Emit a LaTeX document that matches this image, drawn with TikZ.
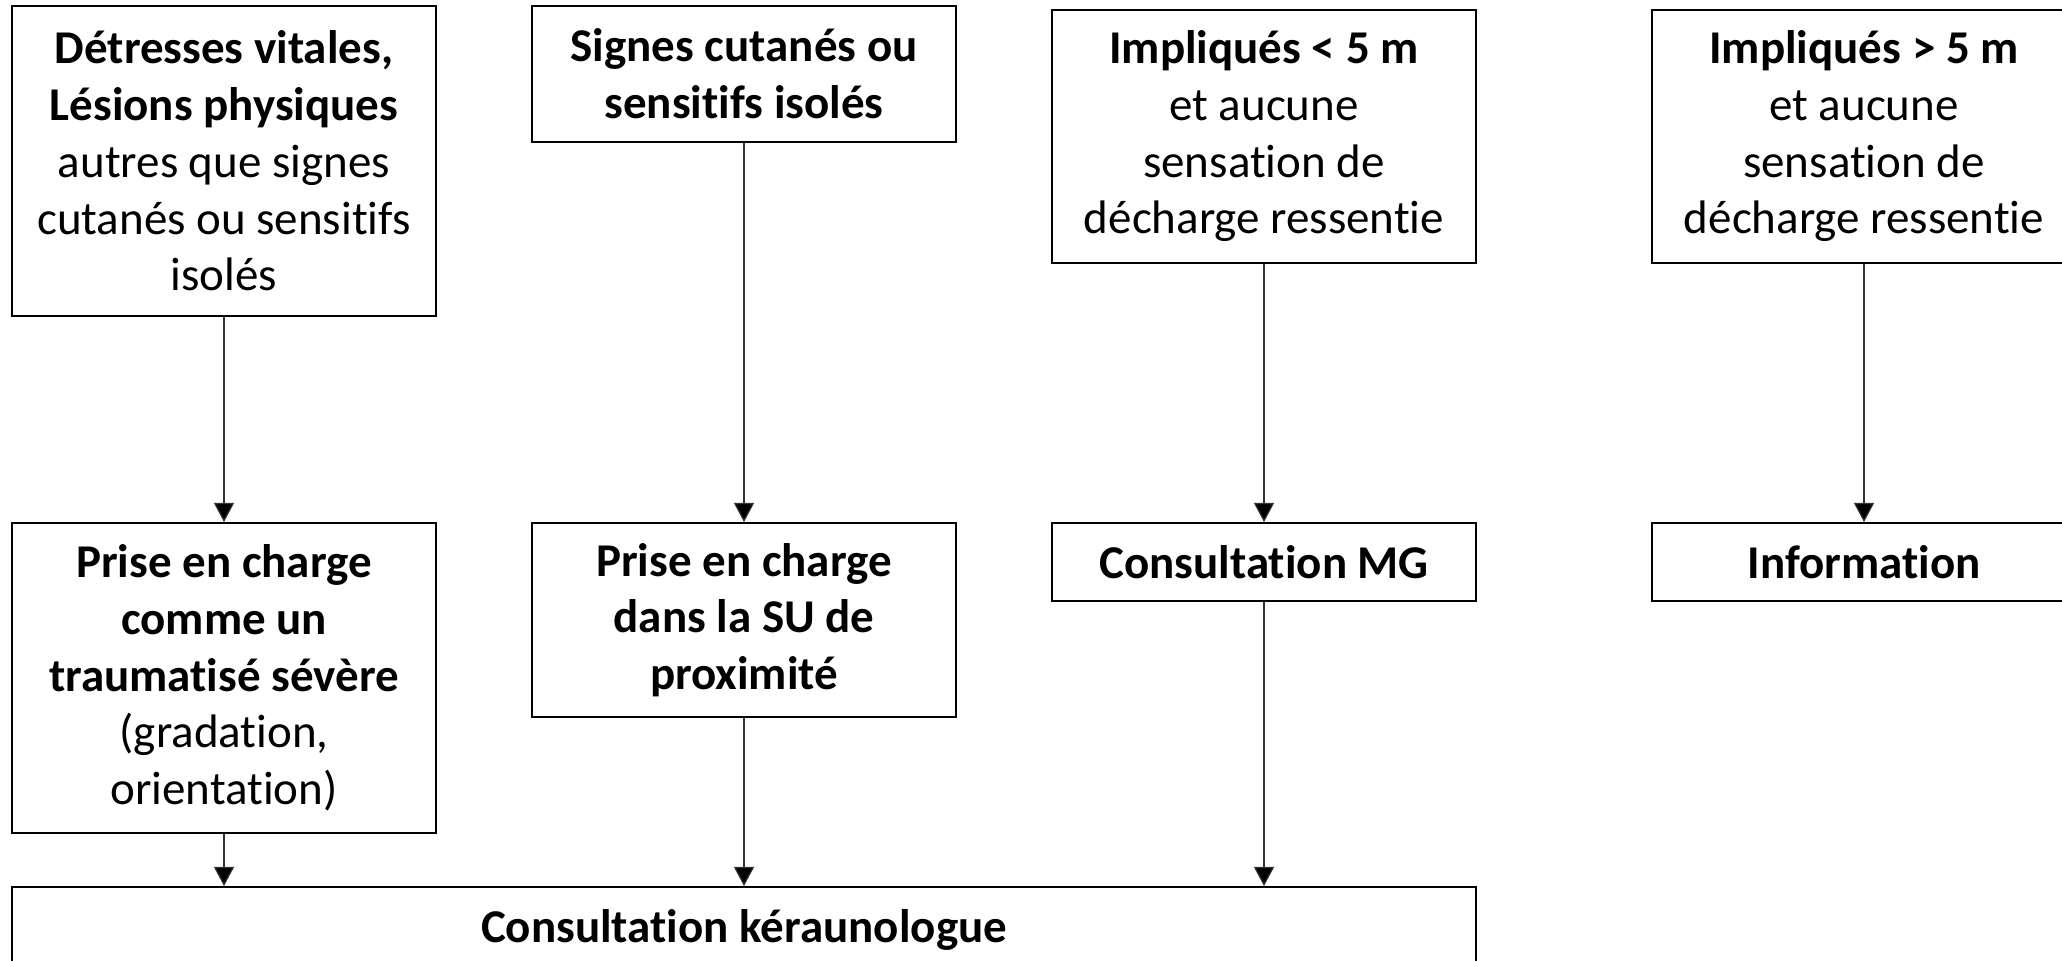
\documentclass[tikz,border=0pt]{standalone}
\usepackage{fontspec}
\setmainfont{Carlito}[Ligatures={NoCommon},RawFeature={-liga;-clig}]
\usetikzlibrary{arrows.meta}
\begin{document}
\begin{tikzpicture}[x=0.5pt,y=-0.5pt,
  box/.style={draw=black,line width=1pt,fill=white,rectangle,inner sep=0pt,
    align=center,minimum width=212pt,
    font=\fontsize{23.5}{28.35}\selectfont},
  conn/.style={draw=black!80,line width=0.6pt,-{Triangle[length=9.5pt,width=10pt,fill=black]}}]
\useasboundingbox (0,0) rectangle (2062,961);
\node[box,minimum height=155pt] (b1) at (224,161)
  {\textbf{Détresses vitales,}\\\textbf{Lésions physiques}\\autres que signes\\cutanés ou sensitifs\\isolés};
\node[box,minimum height=68pt] (b2) at (744,74)
  {\textbf{Signes cutanés ou}\\\textbf{sensitifs isolés}};
\node[box,minimum height=126.5pt] (b3) at (1264,136.5)
  {\textbf{Impliqués < 5 m}\\et aucune\\sensation de\\décharge ressentie};
\node[box,minimum height=126.5pt] (b4) at (1864,136.5)
  {\textbf{Impliqués > 5 m}\\et aucune\\sensation de\\décharge ressentie};
\node[box,minimum height=155pt] (b5) at (224,678)
  {\textbf{Prise en charge}\\\textbf{comme un}\\\textbf{traumatisé sévère}\\(gradation,\\orientation)};
\node[box,minimum height=97pt] (b6) at (744,620)
  {\textbf{Prise en charge}\\\textbf{dans la SU de}\\\textbf{proximité}};
\node[box,minimum height=39pt] (b7) at (1264,562)
  {\textbf{Consultation MG}};
\node[box,minimum height=39pt] (b8) at (1864,562)
  {\textbf{Information}};
\node[box,minimum width=732pt,minimum height=43pt] (bot) at (744,930)
  {\textbf{Consultation kéraunologue}};
\draw[conn] (b1.south) -- (b5.north);
\draw[conn] (b2.south) -- (b6.north);
\draw[conn] (b3.south) -- (b7.north);
\draw[conn] (b4.south) -- (b8.north);
\draw[conn] (b5.south) -- (b5.south |- bot.north);
\draw[conn] (b6.south) -- (b6.south |- bot.north);
\draw[conn] (b7.south) -- (b7.south |- bot.north);
\end{tikzpicture}
\end{document}
